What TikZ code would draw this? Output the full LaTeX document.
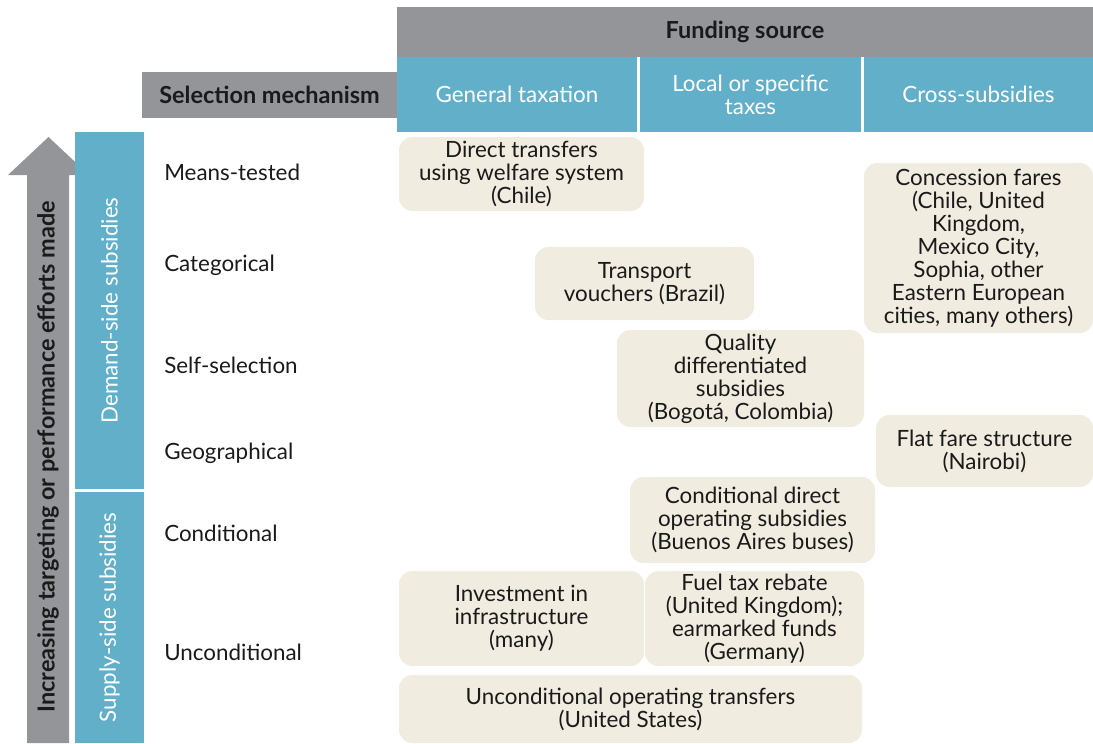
\documentclass[tikz,border=0pt]{standalone}
\usepackage{fontspec}
\setmainfont{Lato}
\definecolor{hdgray}{HTML}{949599}
\definecolor{hdblue}{HTML}{62AFC9}
\definecolor{casefill}{HTML}{F0ECE0}
\definecolor{ink}{HTML}{1A1A1A}
\begin{document}
\begin{tikzpicture}[x=.75pt, y=-.75pt, line join=round,
	font=\fontsize{16.8}{17.2}\selectfont, text=ink,
	boldlab/.style={font=\fontsize{17.6}{17.2}\selectfont\bfseries},
	case/.style={fill=casefill, rounded corners=10pt, align=center, inner sep=0pt},
	colhead/.style={fill=hdblue, text=white, align=center, inner sep=0pt},
	rowlab/.style={anchor=west, inner sep=0pt},
	sidelab/.style={rotate=90, text=white}]
	\useasboundingbox (0,0) rectangle (1093,743);
	% headers
	\node[fill=hdgray, minimum width=696*.75pt, minimum height=50*.75pt, inner sep=0pt, boldlab] (funding) at (745,32) {Funding source};
	\node[fill=hdgray, minimum width=255*.75pt, minimum height=46*.75pt, inner sep=0pt, boldlab] (selection) at (269.5,95) {Selection mechanism};
	\node[colhead, minimum width=240*.75pt, minimum height=75*.75pt] (general) at (517,94.5) {General taxation};
	\node[colhead, minimum width=221*.75pt, minimum height=75*.75pt] (local) at (750.5,94.5) {Local or specific\\taxes};
	\node[colhead, minimum width=229*.75pt, minimum height=75*.75pt] (cross) at (978.5,94.5) {Cross-subsidies};
	% arrow
	\fill[hdgray] (27,743) -- (27,175) -- (8,175) -- (48.5,137) -- (89,175) -- (69,175) -- (69,743) -- cycle;
	\node[rotate=90, boldlab] (arrowlab) at (48,457) {Increasing targeting or performance efforts made};
	% side bars
	\node[fill=hdblue, minimum width=357*.75pt, minimum height=69*.75pt, inner sep=0pt, sidelab] (demand) at (109.5,310.5) {Demand-side subsidies};
	\node[fill=hdblue, minimum width=251*.75pt, minimum height=69*.75pt, inner sep=0pt, sidelab] (supply) at (109.5,617.5) {Supply-side subsidies};
	% row labels
	\node[rowlab] (means) at (164,172) {Means-tested};
	\node[rowlab] (categ) at (164,265) {Categorical};
	\node[rowlab] (self) at (164,365) {Self-selection};
	\node[rowlab] (geo) at (164,453) {Geographical};
	\node[rowlab] (cond) at (164,533) {Conditional};
	\node[rowlab] (uncond) at (164,652) {Unconditional};
	% cases
	\node[case, minimum width=245*.75pt, minimum height=74*.75pt] (direct) at (521.5,174) {Direct transfers\\using welfare system\\(Chile)};
	\node[case, minimum width=219*.75pt, minimum height=73*.75pt] (voucher) at (644.5,283.5) {Transport\\vouchers (Brazil)};
	\node[case, minimum width=247*.75pt, minimum height=97*.75pt] (quality) at (740.5,378.5) {Quality\\differentiated\\subsidies\\(Bogotá, Colombia)};
	\node[case, minimum width=229*.75pt, minimum height=170*.75pt] (concess) at (978.5,248) {Concession fares\\(Chile, United\\Kingdom,\\Mexico City,\\Sophia, other\\Eastern European\\cities, many others)};
	\node[case, minimum width=217*.75pt, minimum height=72*.75pt] (flat) at (984.5,451) {Flat fare structure\\(Nairobi)};
	\node[case, minimum width=245*.75pt, minimum height=86*.75pt] (conddir) at (752.5,520) {Conditional direct\\operating subsidies\\(Buenos Aires buses)};
	\node[case, minimum width=245*.75pt, minimum height=95*.75pt] (invest) at (521.5,618.5) {Investment in\\infrastructure\\(many)};
	\node[case, minimum width=219*.75pt, minimum height=95*.75pt] (fuel) at (754.5,618.5) {Fuel tax rebate\\(United Kingdom);\\earmarked funds\\(Germany)};
	\node[case, minimum width=463*.75pt, minimum height=68*.75pt] (opers) at (630.5,709) {Unconditional operating transfers\\(United States)};
\end{tikzpicture}
\end{document}
